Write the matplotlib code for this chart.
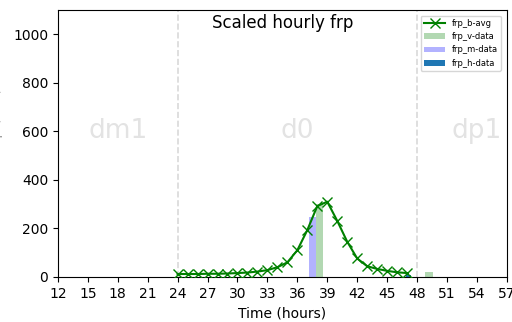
import matplotlib
matplotlib.use("Agg")
import matplotlib.pyplot as plt

# hourly averaged frp (scaled), hours 24..47
hours = list(range(24, 48))
frp_b_avg = [12, 12, 12, 13, 13, 14, 16, 18, 22, 28, 40, 60, 110, 193, 292, 310,
             231, 145, 76, 44, 33, 25, 19, 16]

# satellite observations
v_hours = [38.2, 49.2]
v_vals = [300, 20]
m_hours = [37.5]
m_vals = [245]
h_hours = [47.1]
h_vals = [6]

day_labels = ["dm1", "d0", "dp1"]
day_centers = [18, 36, 54]
day_bounds = [24, 48]

xticks = list(range(12, 58, 3))
yticks = list(range(0, 1001, 200))


def drawChart(fileName):
    fig = plt.figure(figsize=(5.12, 3.22), dpi=100)
    ax = fig.add_axes([0.113, 0.14, 0.877, 0.829])

    ax.plot(hours, frp_b_avg, color="green", marker="x", markersize=6.5,
            linewidth=1.5, label="frp_b-avg", zorder=3)
    ax.bar(v_hours, v_vals, width=0.75, color="green", alpha=0.3,
           label="frp_v-data", zorder=2)
    ax.bar(m_hours, m_vals, width=0.7, color="blue", alpha=0.3,
           label="frp_m-data", zorder=2)
    ax.bar(h_hours, h_vals, width=0.5, color="tab:blue",
           label="frp_h-data", zorder=2)

    for b in day_bounds:
        ax.axvline(b, color="0.85", linestyle="--", linewidth=1.2, zorder=1)

    for lab, xc in zip(day_labels, day_centers):
        ax.text(xc, 600, lab, fontsize=19, color="0.89", ha="center", va="center")

    ax.text(0.5, 0.95, "Scaled hourly frp", transform=ax.transAxes,
            ha="center", va="center", fontsize=12)

    ax.set_xlim(12, 57)
    ax.set_ylim(0, 1100)
    ax.set_xticks(xticks)
    ax.set_yticks(yticks)
    ax.set_xlabel("Time (hours)")
    ax.set_ylabel("Scaled frp (MW)", color="0.6", labelpad=7)

    ax.legend(loc="upper right", fontsize=6, handlelength=2.5,
              borderaxespad=0.7)

    fig.savefig(fileName, dpi=100)


def main():
    drawChart("out.png")


if __name__ == '__main__':
    main()
